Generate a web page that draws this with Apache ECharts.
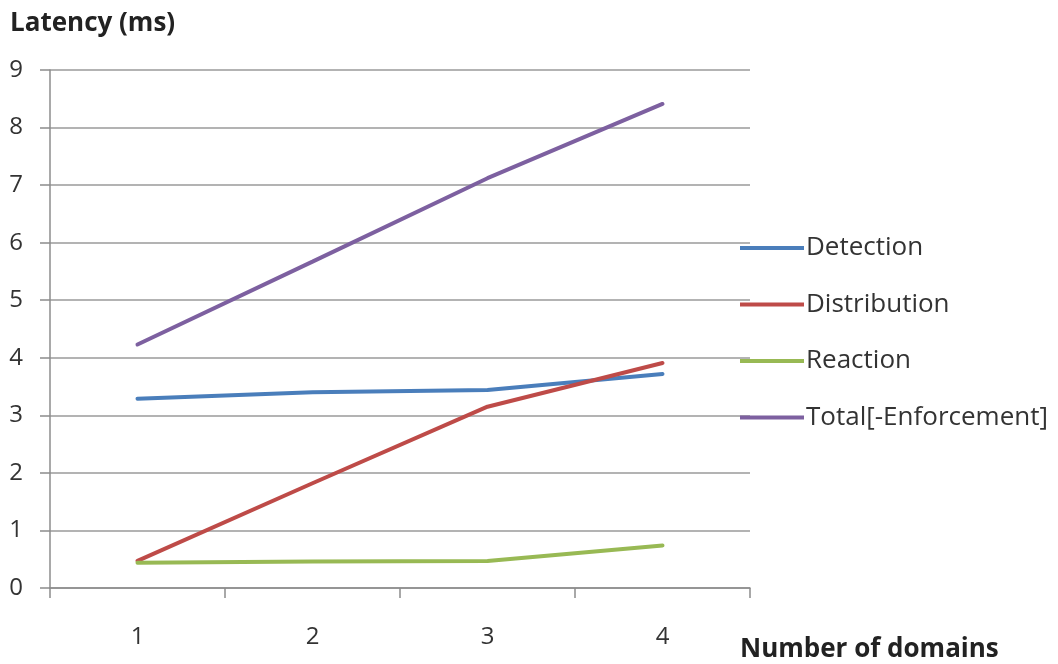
<!DOCTYPE html>
<html><head><meta charset="utf-8">
<script src="https://cdn.jsdelivr.net/npm/echarts@6/dist/echarts.min.js"></script>
<style>html,body{margin:0;padding:0;background:#fff}#c{width:1058px;height:664px}</style>
</head><body><div id="c"></div>
<script>
const categories = ['1', '2', '3', '4'];
const detection = [3.29, 3.40, 3.44, 3.72];
const distribution = [0.47, 1.82, 3.15, 3.91];
const reaction = [0.44, 0.46, 0.47, 0.74];
const total = [4.23, 5.67, 7.12, 8.41];
const seriesNames = ['Detection', 'Distribution', 'Reaction', 'Total[-Enforcement]'];
const colors = ['#4a7ebb', '#be4b48', '#98b954', '#7d60a0'];

const FONT = 'Open Sans';
const chart = echarts.init(document.getElementById('c'));
const mk = (name, data, color) => ({
  name, type: 'line', data, symbol: 'none', smooth: false,
  lineStyle: { width: 4, color, cap: 'round' }, itemStyle: { color }
});
chart.setOption({
  animation: false,
  color: colors,
  title: [
    { text: 'Latency (ms)', left: 5, top: 6, textStyle: { fontFamily: FONT, fontSize: 26, fontWeight: 'bold', color: '#222' } },
    { text: 'Number of domains', left: 735, top: 632, textStyle: { fontFamily: FONT, fontSize: 26, fontWeight: 'bold', color: '#222' } }
  ],
  legend: {
    orient: 'vertical', left: 735, top: 230,
    itemWidth: 64, itemHeight: 4, itemGap: 30.5, icon: 'rect',
    textStyle: { fontFamily: FONT, fontSize: 26, color: '#333', padding: [0, 0, 0, -3] },
    data: seriesNames
  },
  grid: { left: 50, right: 308, top: 70, bottom: 76 },
  xAxis: {
    type: 'category', data: categories, boundaryGap: true,
    axisLine: { lineStyle: { color: '#8c8c8c', width: 1.5 } },
    axisTick: { show: true, length: 10, lineStyle: { color: '#8c8c8c', width: 1.5 } },
    axisLabel: { margin: 37, fontFamily: FONT, fontSize: 24, color: '#333' },
    splitLine: { show: false }
  },
  yAxis: {
    type: 'value', min: 0, max: 9, interval: 1,
    axisLine: { show: true, lineStyle: { color: '#8c8c8c', width: 1.5 } },
    axisTick: { show: true, length: 10, lineStyle: { color: '#8c8c8c', width: 1.5 } },
    axisLabel: { margin: 27, fontFamily: FONT, fontSize: 24, color: '#333' },
    splitLine: { lineStyle: { color: '#9a9a9a', width: 1.5 } }
  },
  series: [
    mk(seriesNames[0], detection, colors[0]),
    mk(seriesNames[1], distribution, colors[1]),
    mk(seriesNames[2], reaction, colors[2]),
    mk(seriesNames[3], total, colors[3])
  ]
});
</script></body></html>
